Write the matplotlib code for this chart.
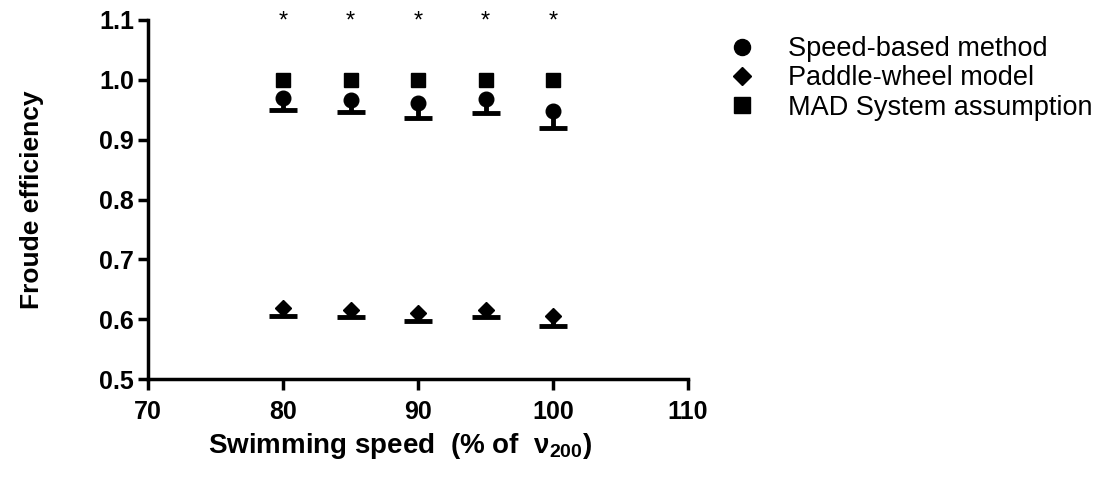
import matplotlib
matplotlib.use("Agg")
import matplotlib.pyplot as plt

plt.rcParams['font.family'] = ['Liberation Sans', 'DejaVu Sans']
plt.rcParams['mathtext.fontset'] = 'custom'
plt.rcParams['mathtext.bf'] = 'Liberation Sans:bold'
plt.rcParams['mathtext.rm'] = 'Liberation Sans:bold'

speed = [80, 85, 90, 95, 100]

# Speed-based method (mean, lower error)
speed_based = [0.970, 0.966, 0.961, 0.968, 0.948]
speed_based_err = [0.021, 0.020, 0.024, 0.024, 0.028]

# Paddle-wheel model
paddle = [0.618, 0.616, 0.611, 0.616, 0.605]
paddle_err = [0.013, 0.013, 0.014, 0.013, 0.016]

# MAD System assumption
mad = [1.0, 1.0, 1.0, 1.0, 1.0]

stars = ['*', '*', '*', '*', '*']

fig = plt.figure(figsize=(11.18, 4.95), dpi=100)
ax = fig.add_axes([0.1324, 0.2343, 0.4830, 0.7253])

zeros = [0] * len(speed)
eb1 = ax.errorbar(speed, speed_based, yerr=[speed_based_err, zeros], fmt='o', color='black',
                  markersize=10.5, elinewidth=3.5, capsize=10, capthick=3.5)
eb2 = ax.errorbar(speed, paddle, yerr=[paddle_err, zeros], fmt='D', color='black',
                  markersize=8, elinewidth=3.5, capsize=10, capthick=3.5)
# keep only the lower caps
for eb in (eb1, eb2):
    eb[1][1].set_visible(False)
sq, = ax.plot(speed, mad, 's', color='black', markersize=10)

for x, s in zip(speed, stars):
    ax.text(x, 1.097, s, ha='center', va='center', fontsize=17)

ax.set_xlim(70, 110)
ax.set_ylim(0.5, 1.1)
ax.set_xticks([70, 80, 90, 100, 110])
ax.set_yticks([0.5, 0.6, 0.7, 0.8, 0.9, 1.0, 1.1])
ax.set_yticklabels(['0.5', '0.6', '0.7', '0.8', '0.9', '1.0', '1.1'])

for side in ['top', 'right']:
    ax.spines[side].set_visible(False)
for side in ['left', 'bottom']:
    ax.spines[side].set_linewidth(2.5)
ax.tick_params(width=2.5, length=7, labelsize=18, direction='out')
ax.tick_params(axis='x', length=8, pad=7)
ax.tick_params(axis='y', pad=3)
for lbl in ax.get_xticklabels() + ax.get_yticklabels():
    lbl.set_fontweight('bold')

ax.set_ylabel('Froude efficiency', fontsize=19, fontweight='bold', labelpad=40)
ax.set_xlabel(r'Swimming speed  (% of  $\mathbf{\nu_{200}}$)', fontsize=20,
              fontweight='bold')
ax.xaxis.set_label_coords(0.467, -0.145)

ax.legend([eb1[0], eb2[0], sq],
          ['Speed-based method', 'Paddle-wheel model', 'MAD System assumption'],
          loc='upper left', bbox_to_anchor=(1.045, 1.0), frameon=False,
          fontsize=19.5, handletextpad=1.2, labelspacing=0.12, handlelength=1.0,
          markerscale=1.1, borderaxespad=0.2)

fig.savefig('out.png', dpi=100)
